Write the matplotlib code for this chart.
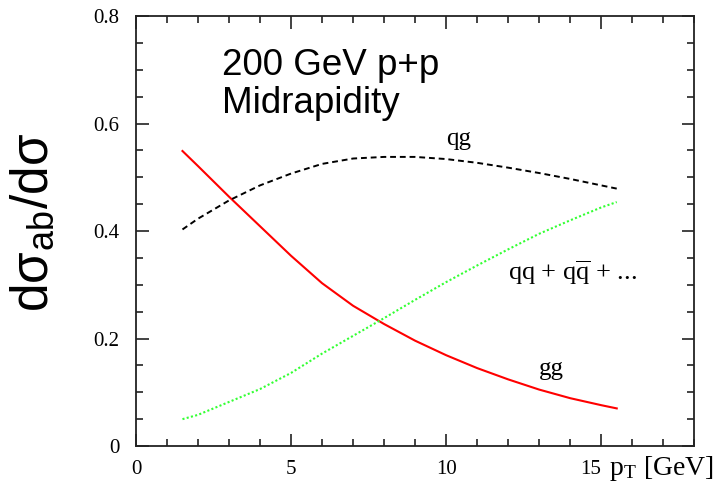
import matplotlib
matplotlib.use("Agg")
import matplotlib.pyplot as plt
from matplotlib.ticker import MultipleLocator

plt.rcParams['mathtext.fontset'] = 'stix'

# values
pt = [1.5, 2, 3, 4, 5, 6, 7, 8, 9, 10, 11, 12, 13, 14, 15, 15.5]
gg = [0.549, 0.521, 0.464, 0.409, 0.354, 0.303, 0.261, 0.227, 0.196,
      0.169, 0.145, 0.124, 0.105, 0.089, 0.076, 0.070]
qg = [0.403, 0.423, 0.457, 0.485, 0.507, 0.525, 0.535, 0.538, 0.538,
      0.534, 0.527, 0.518, 0.508, 0.497, 0.485, 0.479]
qq = [0.050, 0.058, 0.082, 0.106, 0.136, 0.172, 0.205, 0.238, 0.272,
      0.305, 0.336, 0.366, 0.395, 0.420, 0.444, 0.454]

xticks = [0, 5, 10, 15]
xticklabels = ['0', '5', '10', '15']
yticks = [0, 0.2, 0.4, 0.6, 0.8]
yticklabels = ['0', '0.2', '0.4', '0.6', '0.8']

serif = 'Liberation Serif'
sans = 'Liberation Sans'

fig = plt.figure(figsize=(7.27, 4.93), dpi=100)
ax = fig.add_axes([0.187, 0.0953, 0.768, 0.872])

ax.plot(pt, gg, color='#ff0000', lw=1.5)
ax.plot(pt, qg, color='black', lw=1.4, linestyle=(0, (3, 2)))
ax.plot(pt, qq, color='#33ff33', lw=1.5, linestyle=(0, (1, 1.1)))

ax.set_xlim(0, 18)
ax.set_ylim(0, 0.8)
ax.set_xticks(xticks)
ax.set_xticklabels(xticklabels, fontfamily=serif, fontsize=15)
ax.get_xticklabels()[-1].set_horizontalalignment('right')
ax.set_yticks(yticks)
ax.set_yticklabels(yticklabels, fontfamily=serif, fontsize=15)
ax.xaxis.set_minor_locator(MultipleLocator(1))
ax.yaxis.set_minor_locator(MultipleLocator(0.05))
ax.tick_params(which='both', direction='in', top=True, right=True,
               color='#222222')
ax.tick_params(which='major', length=9, width=1.2)
ax.tick_params(which='minor', length=5, width=1.2)
ax.tick_params(axis='x', which='major', pad=10)
ax.tick_params(axis='y', which='major', pad=12)
for s in ax.spines.values():
    s.set_linewidth(1.3)
    s.set_color('#222222')

# curve labels
ax.text(10.0, 0.561, 'qg', fontfamily=serif, fontsize=18, va='baseline')
ax.text(12.0, 0.310, r'qq + q$\overline{\mathregular{q}}$ + ...',
        fontfamily=serif, fontsize=19, va='baseline')
ax.text(13.0, 0.133, 'gg', fontfamily=serif, fontsize=18, va='baseline')

ax.text(0.154, 0.863, '200 GeV p+p', transform=ax.transAxes,
        fontfamily=sans, fontsize=26.5, va='baseline')
ax.text(0.154, 0.774, 'Midrapidity', transform=ax.transAxes,
        fontfamily=sans, fontsize=26.5, va='baseline')

fig.text(609 / 727, 1 - 475 / 493, r'p$_\mathregular{T}$ [GeV]',
         fontfamily=serif, fontsize=20, va='baseline')
fig.text(35 / 727, 1 - 222 / 493, r'dσ$_\mathregular{ab}$/dσ',
         fontfamily=sans, fontsize=37, rotation=90, ha='center', va='center')

fig.savefig('out.png', dpi=100)
